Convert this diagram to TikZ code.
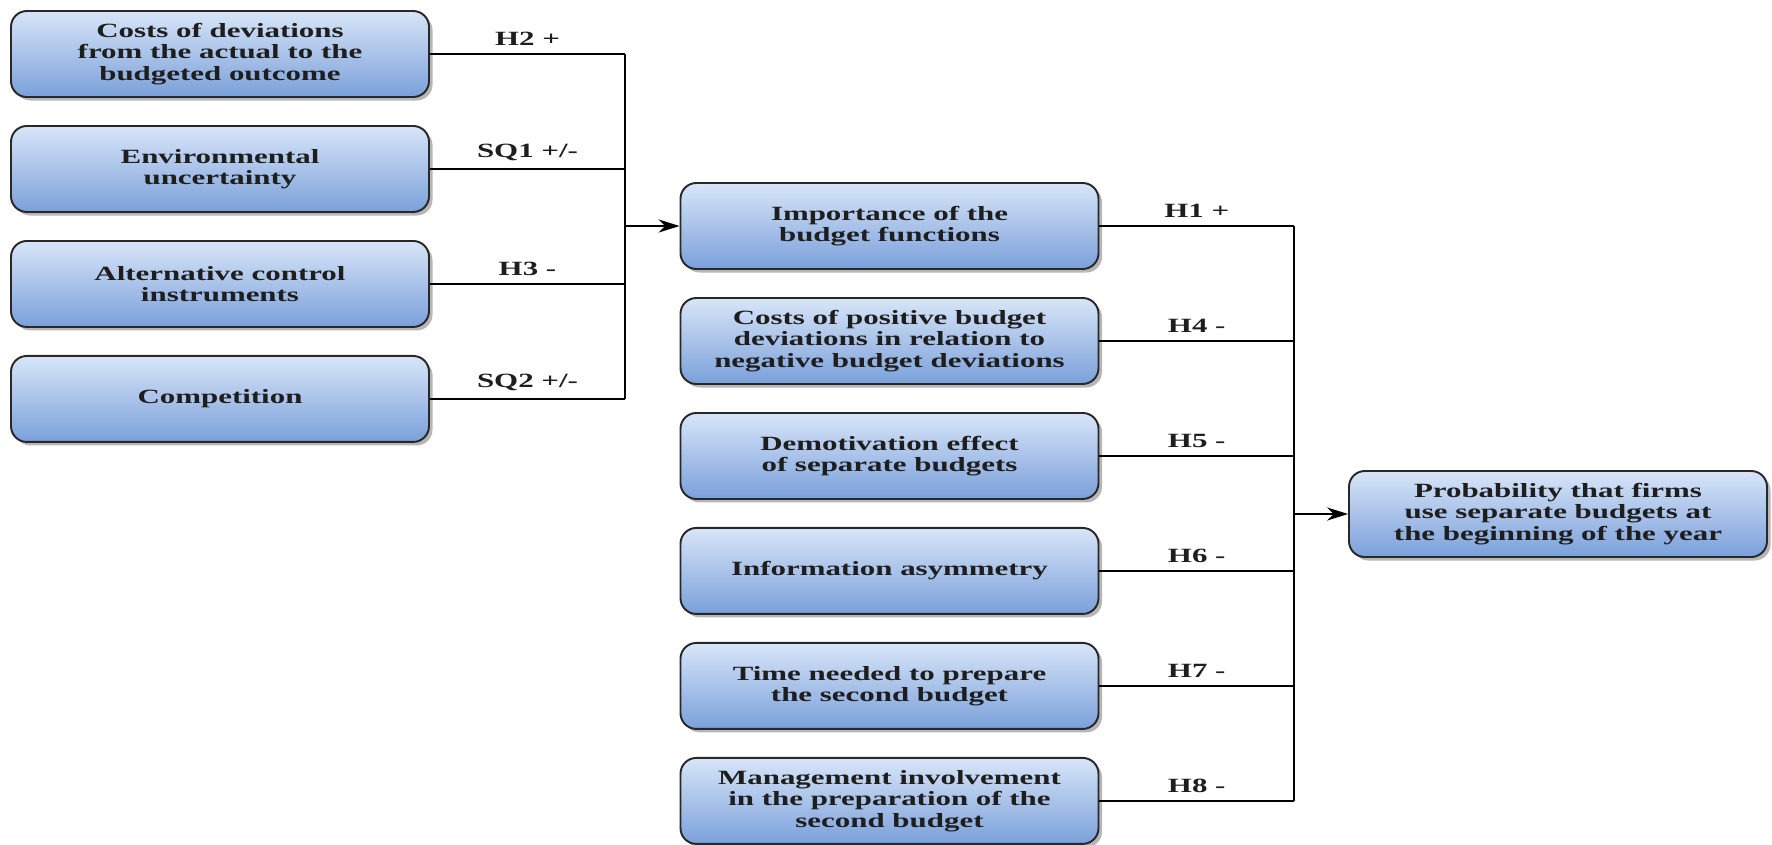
\documentclass[tikz,border=0pt]{standalone}
\usepackage{fontspec}
\newfontfamily\boxfont[FakeStretch=1.53]{Liberation Serif}
\usetikzlibrary{arrows.meta, positioning, shadows}
\definecolor{boxtop}{RGB}{216,229,248}
\definecolor{boxbottom}{RGB}{122,160,218}
\definecolor{boxborder}{RGB}{40,40,40}
\definecolor{shadowgray}{RGB}{110,110,110}
\definecolor{inkgray}{RGB}{30,30,30}
\tikzset{
  factor/.style={rectangle, rounded corners=9pt, draw=boxborder, line width=1.1pt,
              top color=boxtop, bottom color=boxbottom, minimum width=8.36cm, minimum height=1.72cm,
              align=center, inner sep=2pt, text=inkgray, font=\boxfont\bfseries\fontsize{11.5}{12.2}\selectfont,
              drop shadow={shadow xshift=2pt, shadow yshift=-2pt, fill=shadowgray, opacity=0.5}},
  hyp/.style={above=2.5pt, inner sep=2pt, text=inkgray, font=\boxfont\bfseries\fontsize{11.5}{12.2}\selectfont},
  link/.style={line width=0.8pt, draw=black},
  arr/.style={-{Stealth[length=12pt, width=7.5pt]}, line width=0.8pt, draw=black}
}

\begin{document}
\begin{tikzpicture}[node distance=0.541cm]
\useasboundingbox (0,0) rectangle (35.44,-16.88);
% antecedents of the budget functions
\node[factor] (costdev) at (4.4,-1.08) {Costs of deviations\\ from the actual to the\\ budgeted outcome};
\node[factor, below=of costdev] (envunc) {Environmental\\ uncertainty};
\node[factor, below=of envunc] (altctrl) {Alternative control\\ instruments};
\node[factor, below=of altctrl] (compet) {Competition};
% determinants of separate budgets
\node[factor] (imp) at (17.79,-4.52) {Importance of the\\ budget functions};
\node[factor, below=of imp] (costpos) {Costs of positive budget\\ deviations in relation to\\ negative budget deviations};
\node[factor, below=of costpos] (demot) {Demotivation effect\\ of separate budgets};
\node[factor, below=of demot] (infoasym) {Information asymmetry};
\node[factor, below=of infoasym] (timeprep) {Time needed to prepare\\ the second budget};
\node[factor, below=of timeprep] (mgmt) {Management involvement\\ in the preparation of the\\ second budget};
% outcome
\node[factor] (prob) at (31.16,-10.28) {Probability that firms\\ use separate budgets at\\ the beginning of the year};
\coordinate (lbus) at (12.5,0);
\coordinate (rbus) at (25.88,0);
\draw[link] (costdev.east) -- node[hyp]{H2 +} (costdev.east -| lbus);
\draw[link] (envunc.east) -- node[hyp]{SQ1 +/-} (envunc.east -| lbus);
\draw[link] (altctrl.east) -- node[hyp]{H3 -} (altctrl.east -| lbus);
\draw[link] (compet.east) -- node[hyp]{SQ2 +/-} (compet.east -| lbus);
\draw[link] (costdev.east -| lbus) -- (compet.east -| lbus);
\draw[arr] (imp.west -| lbus) -- (imp.west);
\draw[link] (imp.east) -- node[hyp]{H1 +} (imp.east -| rbus);
\draw[link] (costpos.east) -- node[hyp]{H4 -} (costpos.east -| rbus);
\draw[link] (demot.east) -- node[hyp]{H5 -} (demot.east -| rbus);
\draw[link] (infoasym.east) -- node[hyp]{H6 -} (infoasym.east -| rbus);
\draw[link] (timeprep.east) -- node[hyp]{H7 -} (timeprep.east -| rbus);
\draw[link] (mgmt.east) -- node[hyp]{H8 -} (mgmt.east -| rbus);
\draw[link] (imp.east -| rbus) -- (mgmt.east -| rbus);
\draw[arr] (prob.west -| rbus) -- (prob.west);
\end{tikzpicture}
\end{document}
